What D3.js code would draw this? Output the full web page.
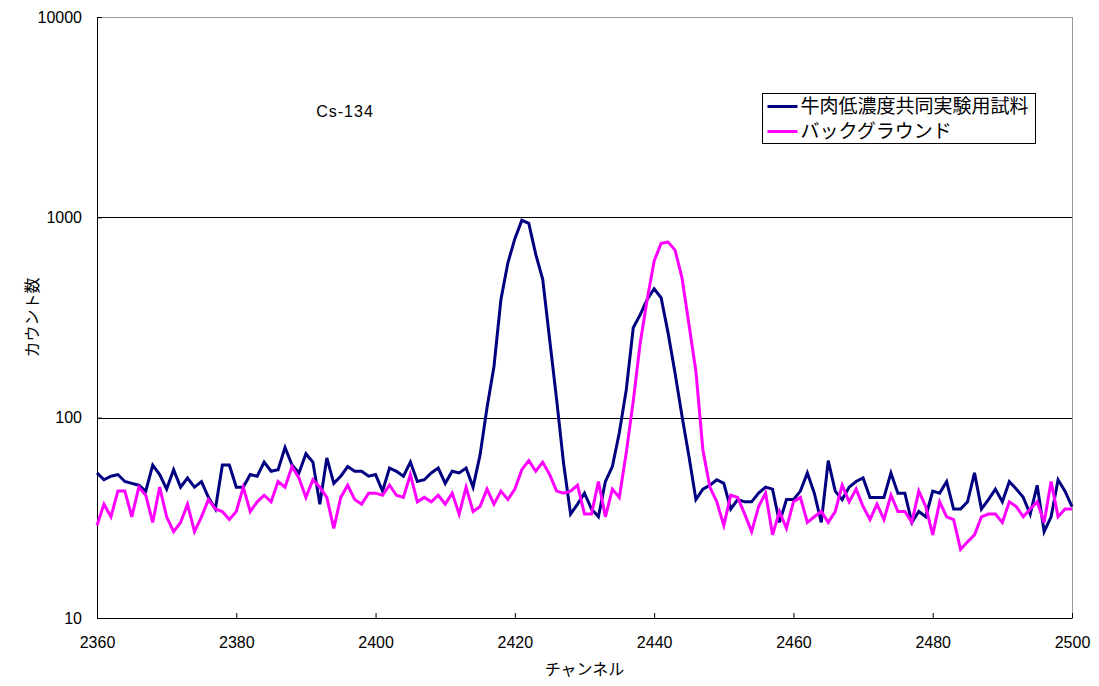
<!DOCTYPE html>
<html>
<head>
<meta charset="utf-8">
<title>Cs-134</title>
<style>
  body { margin: 0; background: #fff; }
  text { font-family: "Liberation Sans", Arial, sans-serif; }
  .jp { font-family: "Noto Sans CJK JP", sans-serif; }
</style>
</head>
<body>
<main></main>
<script src="https://cdn.jsdelivr.net/npm/d3@7/dist/d3.min.js"></script>
<script>
// channels 2360..2500
var channelStart = 2360, channelEnd = 2500;
var seriesNames = ["牛肉低濃度共同実験用試料", "バックグラウンド"];
var seriesColors = ["#000080", "#ff00ff"];
var xTicks = [2360, 2380, 2400, 2420, 2440, 2460, 2480, 2500];
var yTicks = [10, 100, 1000, 10000];

// 牛肉低濃度共同実験用試料
var sample = [
  53, 49, 51, 52, 48, 47, 46, 43, 58, 52,
  44, 55, 45, 50, 45, 48, 40, 35, 58, 58,
  45, 45, 52, 51, 60, 54, 55, 71, 58, 53,
  66, 60, 37, 63, 47, 51, 57, 54, 54, 51,
  52, 43, 56, 54, 51, 60, 48, 49, 53, 56,
  47, 54, 53, 56, 45, 65, 112, 180, 389, 593,
  783, 966, 933, 653, 490, 245, 123, 59, 33, 37,
  42, 35, 32, 48, 57, 84, 138, 281, 327, 389,
  440, 397, 265, 167, 102, 64, 39, 44, 46, 49,
  47, 35, 39, 38, 38, 42, 45, 44, 30, 39,
  39, 43, 53, 42, 30, 61, 43, 39, 45, 48,
  50, 40, 40, 40, 53, 42, 42, 30, 34, 32,
  43, 42, 48, 35, 35, 38, 53, 35, 39, 44,
  38, 48, 44, 40, 33, 46, 27, 32, 49, 43,
  36
];

// バックグラウンド
var background = [
  29, 37, 32, 43, 43, 32, 45, 41, 30, 45,
  32, 27, 30, 37, 27, 32, 39, 35, 34, 31,
  34, 45, 34, 38, 41, 38, 48, 45, 57, 50,
  40, 49, 45, 40, 28, 40, 46, 39, 37, 42,
  42, 41, 46, 41, 40, 52, 38, 40, 38, 41,
  37, 42, 33, 45, 34, 36, 44, 37, 43, 39,
  44, 55, 61, 54, 60, 52, 43, 42, 43, 46,
  33, 33, 48, 32, 44, 40, 67, 121, 236, 389,
  605, 741, 752, 686, 499, 292, 170, 69, 45, 38,
  29, 41, 40, 33, 27, 36, 42, 26, 34, 28,
  38, 40, 30, 32, 34, 30, 34, 46, 38, 44,
  36, 31, 37, 31, 41, 34, 34, 30, 43, 36,
  26, 38, 32, 31, 22, 24, 26, 32, 33, 33,
  30, 38, 36, 32, 35, 38, 30, 48, 32, 35,
  35
];

var width = 1099, height = 686;
var plotLeft = 97, plotRight = 1072, plotTop = 17, plotBottom = 618;

var svg = d3.select("main").append("svg")
    .attr("width", width).attr("height", height);

var x = d3.scaleLinear().domain([channelStart, channelEnd]).range([plotLeft, plotRight]);
var y = d3.scaleLog().domain([10, 10000]).range([plotBottom, plotTop]);

// grid lines (top one is the grey frame)
svg.append("g").selectAll("line")
    .data(yTicks.filter(function (d) { return d > 10; }))
    .enter().append("line")
    .attr("x1", plotLeft).attr("x2", plotRight)
    .attr("y1", function (d) { return Math.round(y(d)) + 0.5; })
    .attr("y2", function (d) { return Math.round(y(d)) + 0.5; })
    .attr("stroke", function (d) { return d === 10000 ? "#999" : "#000"; })
    .attr("stroke-width", 1);

// right frame
svg.append("line")
    .attr("x1", plotRight + 0.5).attr("x2", plotRight + 0.5)
    .attr("y1", plotTop).attr("y2", plotBottom)
    .attr("stroke", "#999");

// axes
var xAxis = d3.axisBottom(x).tickValues(xTicks).tickFormat(d3.format("d"))
    .tickSizeInner(-5).tickSizeOuter(0).tickPadding(19);
var yAxis = d3.axisLeft(y).tickValues(yTicks).tickFormat(d3.format("d"))
    .tickSizeInner(-5).tickSizeOuter(0).tickPadding(15);

var gx = svg.append("g").attr("transform", "translate(0," + plotBottom + ")").call(xAxis);
var gy = svg.append("g").attr("transform", "translate(" + plotLeft + ",0)").call(yAxis);

[gx, gy].forEach(function (g) {
    g.select(".domain").attr("stroke", "#000");
    g.selectAll(".tick line").attr("stroke", "#000");
    g.selectAll(".tick text")
        .attr("fill", "#000")
        .style("font-family", "'Liberation Sans', Arial, sans-serif")
        .style("font-size", "16px");
});

// axis titles
svg.append("text").attr("class", "jp")
    .attr("x", (plotLeft + plotRight) / 2).attr("y", 675)
    .attr("text-anchor", "middle")
    .style("font-size", "16px")
    .text("チャンネル");

svg.append("text").attr("class", "jp")
    .attr("transform", "translate(32," + ((plotTop + plotBottom) / 2) + ") rotate(-90)")
    .attr("text-anchor", "middle")
    .attr("dy", "0.35em")
    .style("font-size", "16px")
    .text("カウント数");

// lines
var line = d3.line()
    .x(function (d, i) { return x(channelStart + i); })
    .y(function (d) { return y(d); });

var plot = svg.append("g");
[sample, background].forEach(function (s, k) {
    plot.append("path")
        .datum(s)
        .attr("fill", "none")
        .attr("stroke", seriesColors[k])
        .attr("stroke-width", 3)
        .attr("stroke-linejoin", "miter")
        .attr("d", line);
});

// annotation
svg.append("text")
    .attr("x", 345).attr("y", 117)
    .attr("text-anchor", "middle")
    .style("font-size", "16px")
    .style("letter-spacing", "1px")
    .text("Cs-134");

// legend
var legend = svg.append("g").attr("transform", "translate(762.5,93.5)");
legend.append("rect")
    .attr("width", 273).attr("height", 50)
    .attr("fill", "#fff").attr("stroke", "#000");
seriesNames.forEach(function (name, k) {
    var yy = 13 + k * 25;
    legend.append("line")
        .attr("x1", 5).attr("x2", 35).attr("y1", yy).attr("y2", yy)
        .attr("stroke", seriesColors[k]).attr("stroke-width", 3);
    legend.append("text").attr("class", "jp")
        .attr("x", 38).attr("y", yy).attr("dy", "0.36em")
        .style("font-size", "19px")
        .text(name);
});
</script>
</body>
</html>
